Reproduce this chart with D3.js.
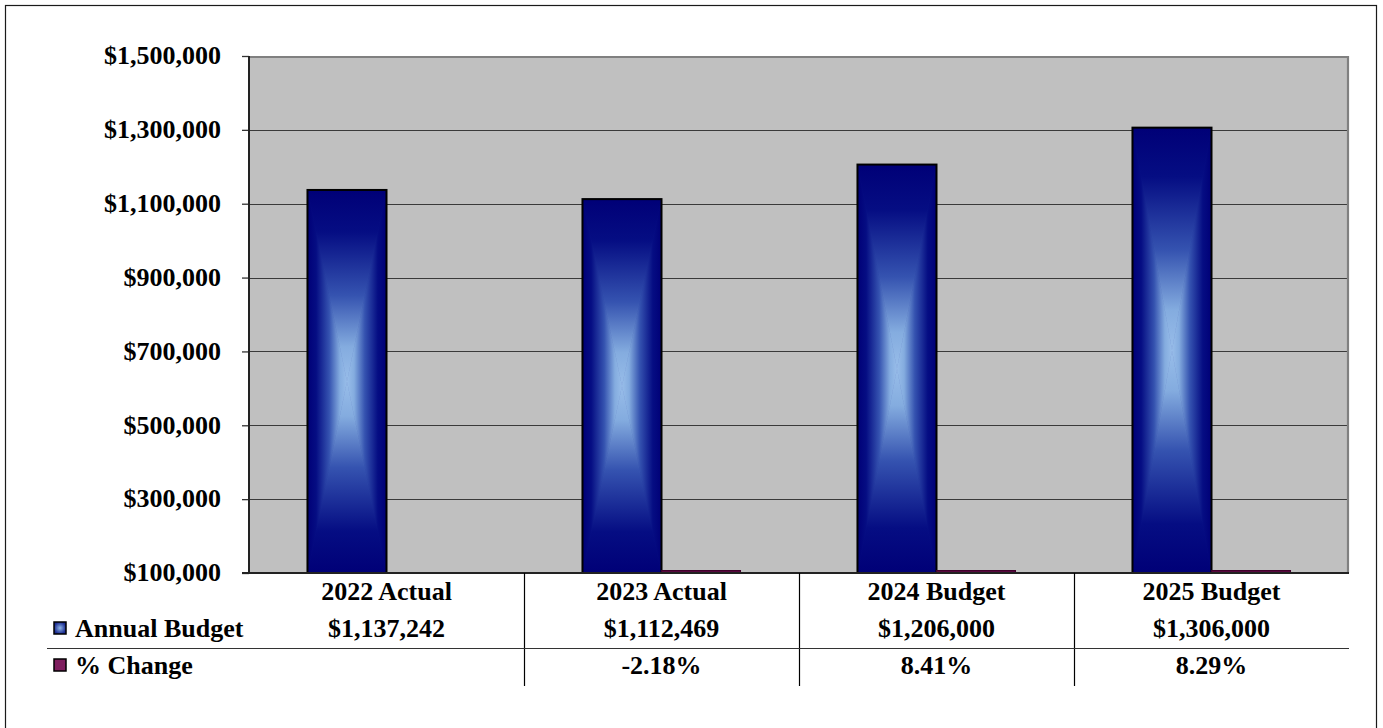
<!DOCTYPE html>
<html>
<head>
<meta charset="utf-8">
<script src="https://cdn.jsdelivr.net/npm/d3@7"></script>
<style>
  html, body { margin: 0; padding: 0; background: #fff; }
  svg { display: block; }
  text { font-family: "Liberation Serif", "Times New Roman", serif; font-weight: bold; fill: #000; }
</style>
</head>
<body>
<svg id="chart" width="1383" height="728"></svg>
<script>
// Budget history data
const categories = ["2022 Actual", "2023 Actual", "2024 Budget", "2025 Budget"];
const annualBudget = [1137242, 1112469, 1206000, 1306000];
const pctChange = [null, -2.18, 8.41, 8.29];
const seriesNames = ["Annual Budget", "% Change"];
const yTicks = [100000, 300000, 500000, 700000, 900000, 1100000, 1300000, 1500000];

const FONT = "26px";
const plot = { left: 249, right: 1349, top: 56, bottom: 573 };

const svg = d3.select("#chart");
const defs = svg.append("defs");

// Number formats with a plain hyphen for negatives
const locale = d3.formatLocale({ decimal: ".", thousands: ",", grouping: [3], currency: ["$", ""], minus: "-" });
const fmtMoney = locale.format("$,.0f");
const fmtPct = v => locale.format(".2f")(v) + "%";

// Rectangular "from centre" fill: dark navy at the edges, pale blue in the middle
const gradStops = [
  [0, "#000077"], [0.22, "#050d83"], [0.55, "#3553b0"], [0.82, "#84acdf"], [1, "#98bde9"]
];
function addGrad(id, x1, y1, x2, y2) {
  const g = defs.append("linearGradient").attr("id", id)
    .attr("x1", x1).attr("y1", y1).attr("x2", x2).attr("y2", y2);
  gradStops.forEach(([o, c]) => g.append("stop").attr("offset", o).attr("stop-color", c));
}
addGrad("gTop", 0, 0, 0, 1);
addGrad("gBottom", 0, 1, 0, 0);
addGrad("gLeft", 0, 0, 1, 0);
addGrad("gRight", 1, 0, 0, 0);

// Outer frame
svg.append("rect").attr("x", 5.5).attr("y", 5.5).attr("width", 1371).attr("height", 740)
  .attr("fill", "#fff").attr("stroke", "#1a1a1a").attr("stroke-width", 1.2);

// Scales
const x0 = d3.scaleBand().domain(categories).range([plot.left, plot.right]).padding(0);
const x1 = d3.scaleBand().domain(seriesNames).range([0, x0.bandwidth()])
  .paddingInner(0).paddingOuter(0.74);
const y = d3.scaleLinear().domain([100000, 1500000]).range([plot.bottom, plot.top]);
const yMin = y.domain()[0];

// Plot background
svg.append("rect")
  .attr("x", plot.left).attr("y", plot.top)
  .attr("width", plot.right - plot.left).attr("height", plot.bottom - plot.top)
  .attr("fill", "#c0c0c0");

// Gridlines
svg.append("g").selectAll("line")
  .data(yTicks.filter(d => d > y.domain()[0] && d < y.domain()[1]))
  .join("line")
  .attr("x1", plot.left).attr("x2", plot.right)
  .attr("y1", d => Math.round(y(d)) + 0.5).attr("y2", d => Math.round(y(d)) + 0.5)
  .attr("stroke", "#3a3a3a").attr("stroke-width", 1);

// Plot border (top/right in grey)
svg.append("path")
  .attr("d", `M${plot.left},${plot.top + 1}H${plot.right - 1}V${plot.bottom}`)
  .attr("fill", "none").attr("stroke", "#808080").attr("stroke-width", 2.2);

// Annual Budget bars with a four-triangle centre gradient
const bars = svg.append("g");
categories.forEach((c, i) => {
  const v = annualBudget[i];
  const bx = x0(c) + x1("Annual Budget");
  const bw = x1.bandwidth();
  const by = y(v), bb = y(yMin);
  const cx = bx + bw / 2, cy = (by + bb) / 2;
  const g = bars.append("g");
  g.append("rect").attr("x", bx).attr("y", by).attr("width", bw).attr("height", bb - by)
    .attr("fill", "#0a1488");
  const tris = [
    [[bx, by], [bx + bw, by], [cx, cy], "gTop"],
    [[bx, bb], [bx + bw, bb], [cx, cy], "gBottom"],
    [[bx, by], [bx, bb], [cx, cy], "gLeft"],
    [[bx + bw, by], [bx + bw, bb], [cx, cy], "gRight"]
  ];
  tris.forEach(([a, b, c2, id]) => {
    g.append("path").attr("d", `M${a}L${b}L${c2}Z`).attr("fill", `url(#${id})`)
      .attr("stroke", `url(#${id})`).attr("stroke-width", 0.6);
  });
  g.append("rect").attr("x", bx).attr("y", by).attr("width", bw).attr("height", bb - by)
    .attr("fill", "none").attr("stroke", "#000").attr("stroke-width", 2);
});

// % Change bars: values fall below the axis minimum, so they collapse onto the baseline
svg.append("g").selectAll("rect")
  .data(categories.map((c, i) => ({ c, v: pctChange[i] })).filter(d => d.v !== null))
  .join("rect")
  .attr("x", d => x0(d.c) + x1("% Change"))
  .attr("y", d => y(Math.max(d.v, yMin)) - 2.5)
  .attr("width", x1.bandwidth())
  .attr("height", d => Math.abs(y(yMin) - y(Math.max(d.v, yMin))) + 1.5)
  .attr("fill", "#6a1050").attr("stroke", "#40002a").attr("stroke-width", 1);

// Y axis
const yAxis = svg.append("g").attr("transform", `translate(${plot.left},0)`)
  .call(d3.axisLeft(y).tickValues(yTicks).tickSize(7).tickPadding(21).tickFormat(fmtMoney));
yAxis.select(".domain").remove();
yAxis.selectAll(".tick line").attr("stroke", "#333").attr("stroke-width", 1.3);
yAxis.selectAll(".tick text").style("font-size", FONT)
  .style("font-family", "'Liberation Serif', 'Times New Roman', serif")
  .style("font-weight", "bold").attr("fill", "#000").attr("dy", "0.3em");
svg.append("line").attr("x1", plot.left).attr("x2", plot.left)
  .attr("y1", plot.top).attr("y2", plot.bottom)
  .attr("stroke", "#222").attr("stroke-width", 2);
svg.append("line").attr("x1", plot.left - 7).attr("x2", plot.right)
  .attr("y1", plot.bottom).attr("y2", plot.bottom)
  .attr("stroke", "#222").attr("stroke-width", 2);

// Data table
const table = svg.append("g");
const rowY = { header: 600, budget: 637, pct: 674 };
x0.domain().forEach((c, i) => {
  if (i > 0) {
    table.append("line")
      .attr("x1", Math.round(x0(c)) + 0.5).attr("x2", Math.round(x0(c)) + 0.5)
      .attr("y1", plot.bottom).attr("y2", 686)
      .attr("stroke", "#000").attr("stroke-width", 1.2);
  }
  const cx = x0(c) + x0.bandwidth() / 2;
  table.append("text").attr("x", cx).attr("y", rowY.header)
    .attr("text-anchor", "middle").style("font-size", FONT).text(c);
  table.append("text").attr("x", cx).attr("y", rowY.budget)
    .attr("text-anchor", "middle").style("font-size", FONT).text(fmtMoney(annualBudget[i]));
  if (pctChange[i] !== null) {
    table.append("text").attr("x", cx).attr("y", rowY.pct)
      .attr("text-anchor", "middle").style("font-size", FONT).text(fmtPct(pctChange[i]));
  }
});
table.append("line").attr("x1", 47).attr("x2", plot.right)
  .attr("y1", 648.5).attr("y2", 648.5).attr("stroke", "#333").attr("stroke-width", 1.2);

// Row legend keys
const keyGrad = defs.append("radialGradient").attr("id", "gKey");
keyGrad.append("stop").attr("offset", 0).attr("stop-color", "#8fb6e6");
keyGrad.append("stop").attr("offset", 1).attr("stop-color", "#1a2a90");
const keys = [
  { name: seriesNames[0], fill: "url(#gKey)", y: rowY.budget },
  { name: seriesNames[1], fill: "#7f1f5f", y: rowY.pct }
];
keys.forEach(k => {
  table.append("rect").attr("x", 54).attr("y", k.y - 15).attr("width", 12).attr("height", 12)
    .attr("fill", k.fill).attr("stroke", "#000").attr("stroke-width", 1.5);
  table.append("text").attr("x", 75).attr("y", k.y).style("font-size", FONT).text(k.name);
});
</script>
</body>
</html>
